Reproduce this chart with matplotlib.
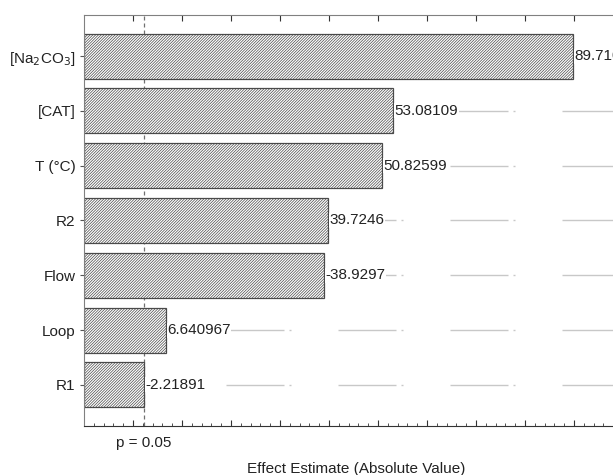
import matplotlib
matplotlib.use("Agg")
import matplotlib.pyplot as plt

plt.rcParams['font.family'] = ['Liberation Sans', 'DejaVu Sans']
plt.rcParams['hatch.linewidth'] = 0.5
plt.rcParams['lines.scale_dashes'] = False

factors = ["[Na$_2$CO$_3$]", "[CAT]", "T (°C)", "R2", "Flow", "Loop", "R1"]
effects = [89.7103, 53.08109, 50.82599, 39.7246, -38.9297, 6.640967, -2.21891]
labels = ["89.7103", "53.08109", "50.82599", "39.7246", "-38.9297", "6.640967", "-2.21891"]
p_crit = 2.2
x_min, x_max = -10, 100

W, H = 613, 475
fig = plt.figure(figsize=(W / 100, H / 100), dpi=100)
ax_box = (84, 49, 539, 411)  # left, bottom, width, height in pixels
ax = fig.add_axes([ax_box[0] / W, ax_box[1] / H, ax_box[2] / W, ax_box[3] / H])

FS = 11
ypos = list(range(len(factors)))
px = 0.72  # points per pixel at 100 dpi

# grid lines through each bar centre (long dash, dot pattern)
grid_style = (82 * px, (58 * px, 5 * px, 2 * px, 47 * px))
for y in ypos:
    ax.plot([x_min, x_max], [y, y], color="#c8c8c8", lw=1.0,
            linestyle=grid_style, zorder=0)

widths = [abs(v) - x_min for v in effects]
ax.barh(ypos, widths, left=x_min, height=0.82, color="white",
        edgecolor="#4a4a4a", hatch="/" * 12, linewidth=0.9, zorder=2)

for y, v, t in zip(ypos, effects, labels):
    ax.text(abs(v) + 0.3, y, t, ha="left", va="center", fontsize=FS,
            color="#222222", zorder=3, clip_on=False,
            bbox=dict(facecolor="white", edgecolor="none", pad=0.3))

ax.axvline(p_crit, color="#707070", lw=0.9, linestyle=(0, (4 * px, 3 * px)),
           zorder=1)

ax.set_xlim(x_min, x_max)
ax.set_ylim(len(factors) - 0.25, -0.75)
ax.set_yticks(ypos)
ax.set_yticklabels(factors, fontsize=FS, color="#222222")

ax.set_xticks(range(0, 101, 10))
ax.set_xticks(range(-10, 101, 2), minor=True)
ax.tick_params(axis="x", which="major", direction="in", length=4, top=True,
               bottom=True, labelbottom=False, color="#333333")
ax.tick_params(axis="x", which="minor", direction="in", length=2, top=False,
               bottom=True, color="#333333")
ax.tick_params(axis="y", direction="out", length=3, color="#555555", pad=3)

for side in ("left", "top", "right"):
    ax.spines[side].set_color("#808080")
ax.spines["bottom"].set_color("#333333")

# critical-value label under the axis
p_label_y = ((H - 443) - ax_box[1]) / ax_box[3]
ax.text(p_crit, p_label_y, "p = 0.05", transform=ax.get_xaxis_transform(),
        ha="center", va="center", fontsize=FS, color="#222222")
fig.text(356 / W, (H - 469) / H, "Effect Estimate (Absolute Value)",
         ha="center", va="center", fontsize=FS, color="#222222")

fig.savefig("out.png", dpi=100)
